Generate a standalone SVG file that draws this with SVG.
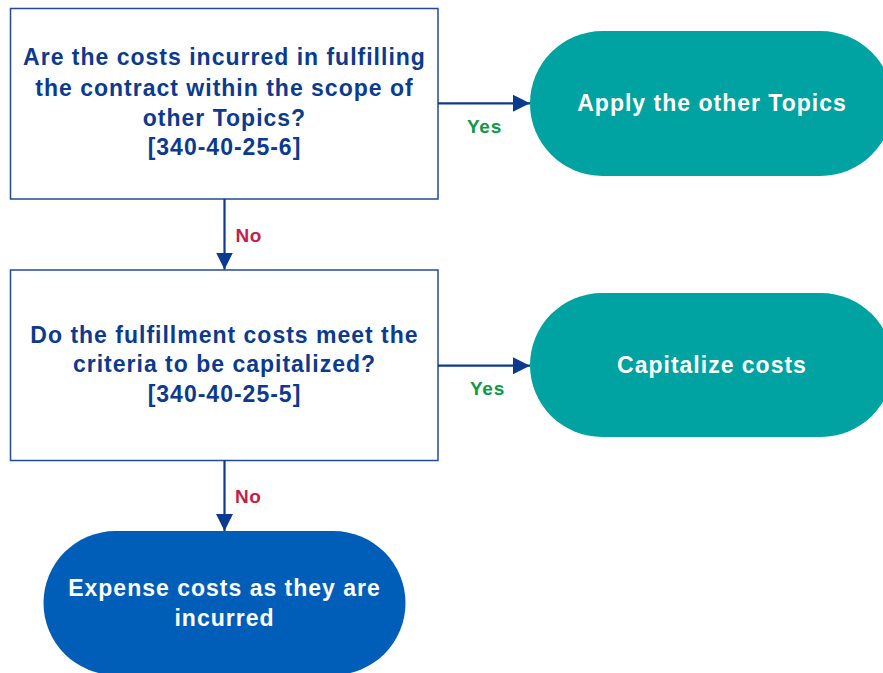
<svg xmlns="http://www.w3.org/2000/svg" width="883" height="673" viewBox="0 0 883 673">
<defs>
<style>
.box{fill:#fff;stroke:#234a9b;stroke-width:1.5}
.q{font-family:"Liberation Sans",Arial,sans-serif;font-weight:bold;font-size:23px;letter-spacing:1px;fill:#0b3a8f;text-anchor:middle}
.t{font-family:"Liberation Sans",Arial,sans-serif;font-weight:bold;font-size:23px;letter-spacing:1px;fill:#fff;text-anchor:middle}
.teal{fill:#00a3a1}
.blue{fill:#005eb8}
.conn{stroke:#0b3a8f;stroke-width:2.2;fill:none}
.no{font-family:"Liberation Sans",Arial,sans-serif;font-weight:bold;font-size:19px;letter-spacing:0.6px;fill:#c41e4a;text-anchor:start}
.yes{font-family:"Liberation Sans",Arial,sans-serif;font-weight:bold;font-size:19px;letter-spacing:0.8px;fill:#0d9a48;text-anchor:middle}
</style>
<marker id="ah" viewBox="0 0 10 10" refX="10" refY="5" markerUnits="userSpaceOnUse" markerWidth="17" markerHeight="18" orient="auto">
<path d="M0,0 L10,5 L0,10 Z" fill="#0b3a8f"/>
</marker>
</defs>
<g id="q1">
<rect class="box" x="10.5" y="8.5" width="427.5" height="190.5"/>
<text class="q" x="224.5" y="65">Are the costs incurred in fulfilling</text>
<text class="q" x="224.5" y="95.5">the contract within the scope of</text>
<text class="q" x="224.5" y="125.5">other Topics?</text>
<text class="q" x="224.5" y="155">[340-40-25-6]</text>
</g>
<g id="q2">
<rect class="box" x="10.5" y="270" width="427.5" height="190.5"/>
<text class="q" x="224.5" y="342.5">Do the fulfillment costs meet the</text>
<text class="q" x="224.5" y="372">criteria to be capitalized?</text>
<text class="q" x="224.5" y="401.5">[340-40-25-5]</text>
</g>
<g id="t1">
<rect class="teal" x="530" y="31" width="363" height="145" rx="72.5" ry="72.5"/>
<text class="t" x="712" y="110.5">Apply the other Topics</text>
</g>
<g id="t2">
<rect class="teal" x="530" y="293" width="363" height="144" rx="72" ry="72"/>
<text class="t" x="712" y="373">Capitalize costs</text>
</g>
<g id="t3">
<rect class="blue" x="43.5" y="531" width="362" height="144" rx="72" ry="72"/>
<text class="t" x="224.5" y="596">Expense costs as they are</text>
<text class="t" x="224.5" y="625.5">incurred</text>
</g>
<g id="connectors">
<line class="conn" x1="224.5" y1="199" x2="224.5" y2="269.5" marker-end="url(#ah)"/>
<line class="conn" x1="438" y1="103.3" x2="530" y2="103.3" marker-end="url(#ah)"/>
<line class="conn" x1="438" y1="365.7" x2="530" y2="365.7" marker-end="url(#ah)"/>
<line class="conn" x1="224.5" y1="460.5" x2="224.5" y2="531" marker-end="url(#ah)"/>
<text class="no" x="235.5" y="241.5">No</text>
<text class="no" x="235" y="502.5">No</text>
<text class="yes" x="484.5" y="133">Yes</text>
<text class="yes" x="487.5" y="395">Yes</text>
</g>
</svg>
